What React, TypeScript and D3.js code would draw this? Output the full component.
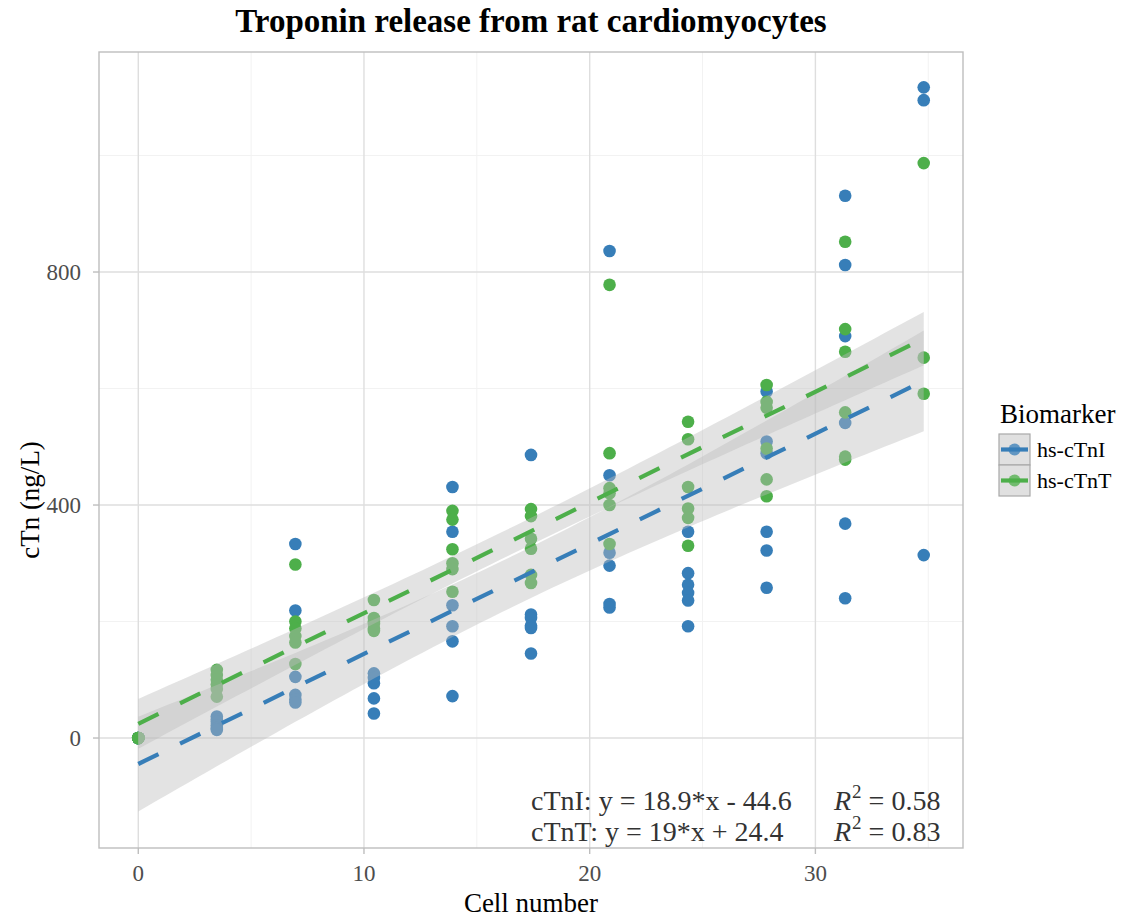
import React from "react";
import * as d3 from "d3";

// Cell numbers (x positions of the replicate groups)
const cellNumbers = [0, 3.48, 6.96, 10.44, 13.92, 17.4, 20.88, 24.36, 27.84, 31.32, 34.8];

// hs-cTnI measurements (ng/L) per cell number
const cTnIValues: number[][] = [
  [0, 0, 0, 0, 0, 0],
  [37, 32, 28, 22, 17, 14],
  [333, 219, 105, 74, 66, 61],
  [111, 103, 94, 68, 42],
  [431, 354, 228, 192, 166, 72],
  [486, 212, 206, 193, 189, 145],
  [836, 451, 318, 296, 230, 224],
  [354, 283, 263, 249, 236, 192],
  [595, 509, 489, 354, 322, 258],
  [931, 812, 690, 541, 368, 240],
  [1117, 1095, 314],
];

// hs-cTnT measurements (ng/L) per cell number
const cTnTValues: number[][] = [
  [0, 0, 0, 0, 0, 0],
  [117, 108, 100, 92, 84, 71],
  [298, 200, 188, 175, 164, 127],
  [237, 206, 200, 196, 188, 184],
  [390, 375, 324, 300, 290, 251],
  [393, 381, 342, 325, 280, 266],
  [778, 489, 429, 420, 400, 333],
  [543, 513, 431, 394, 378, 330],
  [606, 577, 567, 497, 444, 415],
  [852, 702, 663, 559, 483, 478],
  [987, 653, 591],
];

// Reported linear fits
const fitSlopes = [18.9, 19];
const fitIntercepts = [-44.6, 24.4];
const fitR2 = ["0.58", "0.83"];
const seriesNames = ["hs-cTnI", "hs-cTnT"];
const seriesShort = ["cTnI", "cTnT"];
const seriesColors = ["#377EB8", "#4DAF4A"];

const xTicks = [0, 10, 20, 30];
const xMinorTicks = [5, 15, 25, 35];
const yTicks = [0, 400, 800];
const yMinorTicks = [200, 600, 1000];

const xDomain = [-1.74, 36.54];
const yDomain = [-188.8, 1177.7];

const W = 1129;
const H = 919;
const panel = { left: 99, right: 963, top: 52, bottom: 848 };

const serif = "'Liberation Serif', 'DejaVu Serif', serif";

type Pt = { x: number; y: number };

function flatten(values: number[][]): Pt[] {
  const out: Pt[] = [];
  values.forEach((col, i) => col.forEach((v) => out.push({ x: cellNumbers[i], y: v })));
  return out;
}

// 95% confidence band half-widths of a least-squares fit
function bandFn(points: Pt[]) {
  const n = points.length;
  const xbar = d3.mean(points, (p) => p.x) as number;
  const ybar = d3.mean(points, (p) => p.y) as number;
  const sxx = d3.sum(points, (p) => (p.x - xbar) ** 2);
  const sxy = d3.sum(points, (p) => (p.x - xbar) * (p.y - ybar));
  const b = sxy / sxx;
  const a = ybar - b * xbar;
  const sse = d3.sum(points, (p) => (p.y - (a + b * p.x)) ** 2);
  const df = n - 2;
  const s = Math.sqrt(sse / df);
  const z = 1.959964;
  const t = z + (z ** 3 + z) / (4 * df) + (5 * z ** 5 + 16 * z ** 3 + 3 * z) / (96 * df * df);
  return (x: number) => t * s * Math.sqrt(1 / n + (x - xbar) ** 2 / sxx);
}

export default function App() {
  const x = d3.scaleLinear().domain(xDomain).range([panel.left, panel.right]);
  const y = d3.scaleLinear().domain(yDomain).range([panel.bottom, panel.top]);

  const series = [cTnIValues, cTnTValues].map((vals, i) => {
    const pts = flatten(vals);
    const half = bandFn(pts);
    const line = (xv: number) => fitIntercepts[i] + fitSlopes[i] * xv;
    const xs = d3.range(0, 81).map((k) => (k / 80) * d3.max(cellNumbers)!);
    const area = d3
      .area<number>()
      .x((d) => x(d))
      .y0((d) => y(line(d) - half(d)))
      .y1((d) => y(line(d) + half(d)))(xs);
    const xEnds = [0, d3.max(cellNumbers)!];
    const path = d3
      .line<number>()
      .x((d) => x(d))
      .y((d) => y(line(d)))(xEnds);
    return { pts, area, path, color: seriesColors[i] };
  });

  return (
    <svg
      width={W}
      height={H}
      style={{ position: "absolute", left: 0, top: 0, background: "#fff" }}
      fontFamily={serif}
    >
      <defs>
        <clipPath id="panelClip">
          <rect x={panel.left} y={panel.top} width={panel.right - panel.left} height={panel.bottom - panel.top} />
        </clipPath>
      </defs>
      <rect x={0} y={0} width={W} height={H} fill="#fff" />

      {/* grid */}
      <g>
        {xMinorTicks.map((t) => (
          <line key={"xm" + t} x1={x(t)} x2={x(t)} y1={panel.top} y2={panel.bottom} stroke="#F2F2F2" strokeWidth={1} />
        ))}
        {yMinorTicks.map((t) => (
          <line key={"ym" + t} x1={panel.left} x2={panel.right} y1={y(t)} y2={y(t)} stroke="#F2F2F2" strokeWidth={1} />
        ))}
        {xTicks.map((t) => (
          <line key={"xM" + t} x1={x(t)} x2={x(t)} y1={panel.top} y2={panel.bottom} stroke="#DEDEDE" strokeWidth={1.4} />
        ))}
        {yTicks.map((t) => (
          <line key={"yM" + t} x1={panel.left} x2={panel.right} y1={y(t)} y2={y(t)} stroke="#DEDEDE" strokeWidth={1.4} />
        ))}
      </g>

      <g clipPath="url(#panelClip)">
        {series.map((s, i) =>
          s.pts.map((p, j) => (
            <circle key={`p${i}-${j}`} cx={x(p.x)} cy={y(p.y)} r={6.3} fill={s.color} />
          ))
        )}
        {series.map((s, i) => (
          <g key={"fit" + i}>
            <path d={s.area || ""} fill="#BDBDBD" fillOpacity={0.42} stroke="none" />
            <path
              d={s.path || ""}
              fill="none"
              stroke={s.color}
              strokeWidth={4.2}
              strokeDasharray="22.5 24"
            />
          </g>
        ))}
      </g>

      {/* fit equations */}
      <g fill="#333" fontSize={28}>
        {seriesShort.map((name, i) => {
          const sign = fitIntercepts[i] < 0 ? "-" : "+";
          const yy = 810 + i * 31;
          return (
            <g key={"eq" + i}>
              <text x={531} y={yy}>
                {`${name}: y = ${fitSlopes[i]}*x ${sign} ${Math.abs(fitIntercepts[i])}`}
              </text>
              <text x={834} y={yy}>
                <tspan fontStyle="italic">R</tspan>
                <tspan fontSize={19} dy={-12} dx={1}>2</tspan>
                <tspan dy={12}>{` = ${fitR2[i]}`}</tspan>
              </text>
            </g>
          );
        })}
      </g>

      {/* panel border */}
      <rect
        x={panel.left}
        y={panel.top}
        width={panel.right - panel.left}
        height={panel.bottom - panel.top}
        fill="none"
        stroke="#BEBEBE"
        strokeWidth={1.4}
      />

      {/* axes */}
      <g>
        {xTicks.map((t) => (
          <g key={"xt" + t}>
            <line x1={x(t)} x2={x(t)} y1={panel.bottom} y2={panel.bottom + 6} stroke="#BEBEBE" strokeWidth={1.4} />
            <text x={x(t)} y={881} textAnchor="middle" fontSize={23} fill="#4D4D4D">
              {t}
            </text>
          </g>
        ))}
        {yTicks.map((t) => (
          <g key={"yt" + t}>
            <line x1={panel.left - 6} x2={panel.left} y1={y(t)} y2={y(t)} stroke="#BEBEBE" strokeWidth={1.4} />
            <text x={81} y={y(t)} dy="0.35em" textAnchor="end" fontSize={23} fill="#4D4D4D">
              {t}
            </text>
          </g>
        ))}
      </g>

      <text x={(panel.left + panel.right) / 2} y={912} textAnchor="middle" fontSize={27} fill="#000">
        Cell number
      </text>
      <text
        transform={`translate(39, 500) rotate(-90)`}
        textAnchor="middle"
        fontSize={27}
        fill="#000"
      >
        cTn (ng/L)
      </text>

      <text x={531} y={32} textAnchor="middle" fontSize={33} fontWeight="bold" fill="#000">
        Troponin release from rat cardiomyocytes
      </text>

      {/* legend */}
      <g>
        <text x={1000} y={423} fontSize={27} fill="#000">
          Biomarker
        </text>
        {seriesNames.map((name, i) => {
          const ky = 434 + i * 31;
          return (
            <g key={"lg" + i}>
              <rect x={999} y={ky} width={31} height={31} fill="#E0E0E0" stroke="#A8A8A8" strokeWidth={1.2} />
              <line x1={1001} x2={1028} y1={ky + 15.5} y2={ky + 15.5} stroke={seriesColors[i]} strokeWidth={4.2} />
              <circle cx={1014.5} cy={ky + 15.5} r={6} fill={seriesColors[i]} fillOpacity={0.75} />
              <text x={1037} y={ky + 15.5} dy="0.35em" fontSize={22} fill="#000">
                {name}
              </text>
            </g>
          );
        })}
      </g>
    </svg>
  );
}
